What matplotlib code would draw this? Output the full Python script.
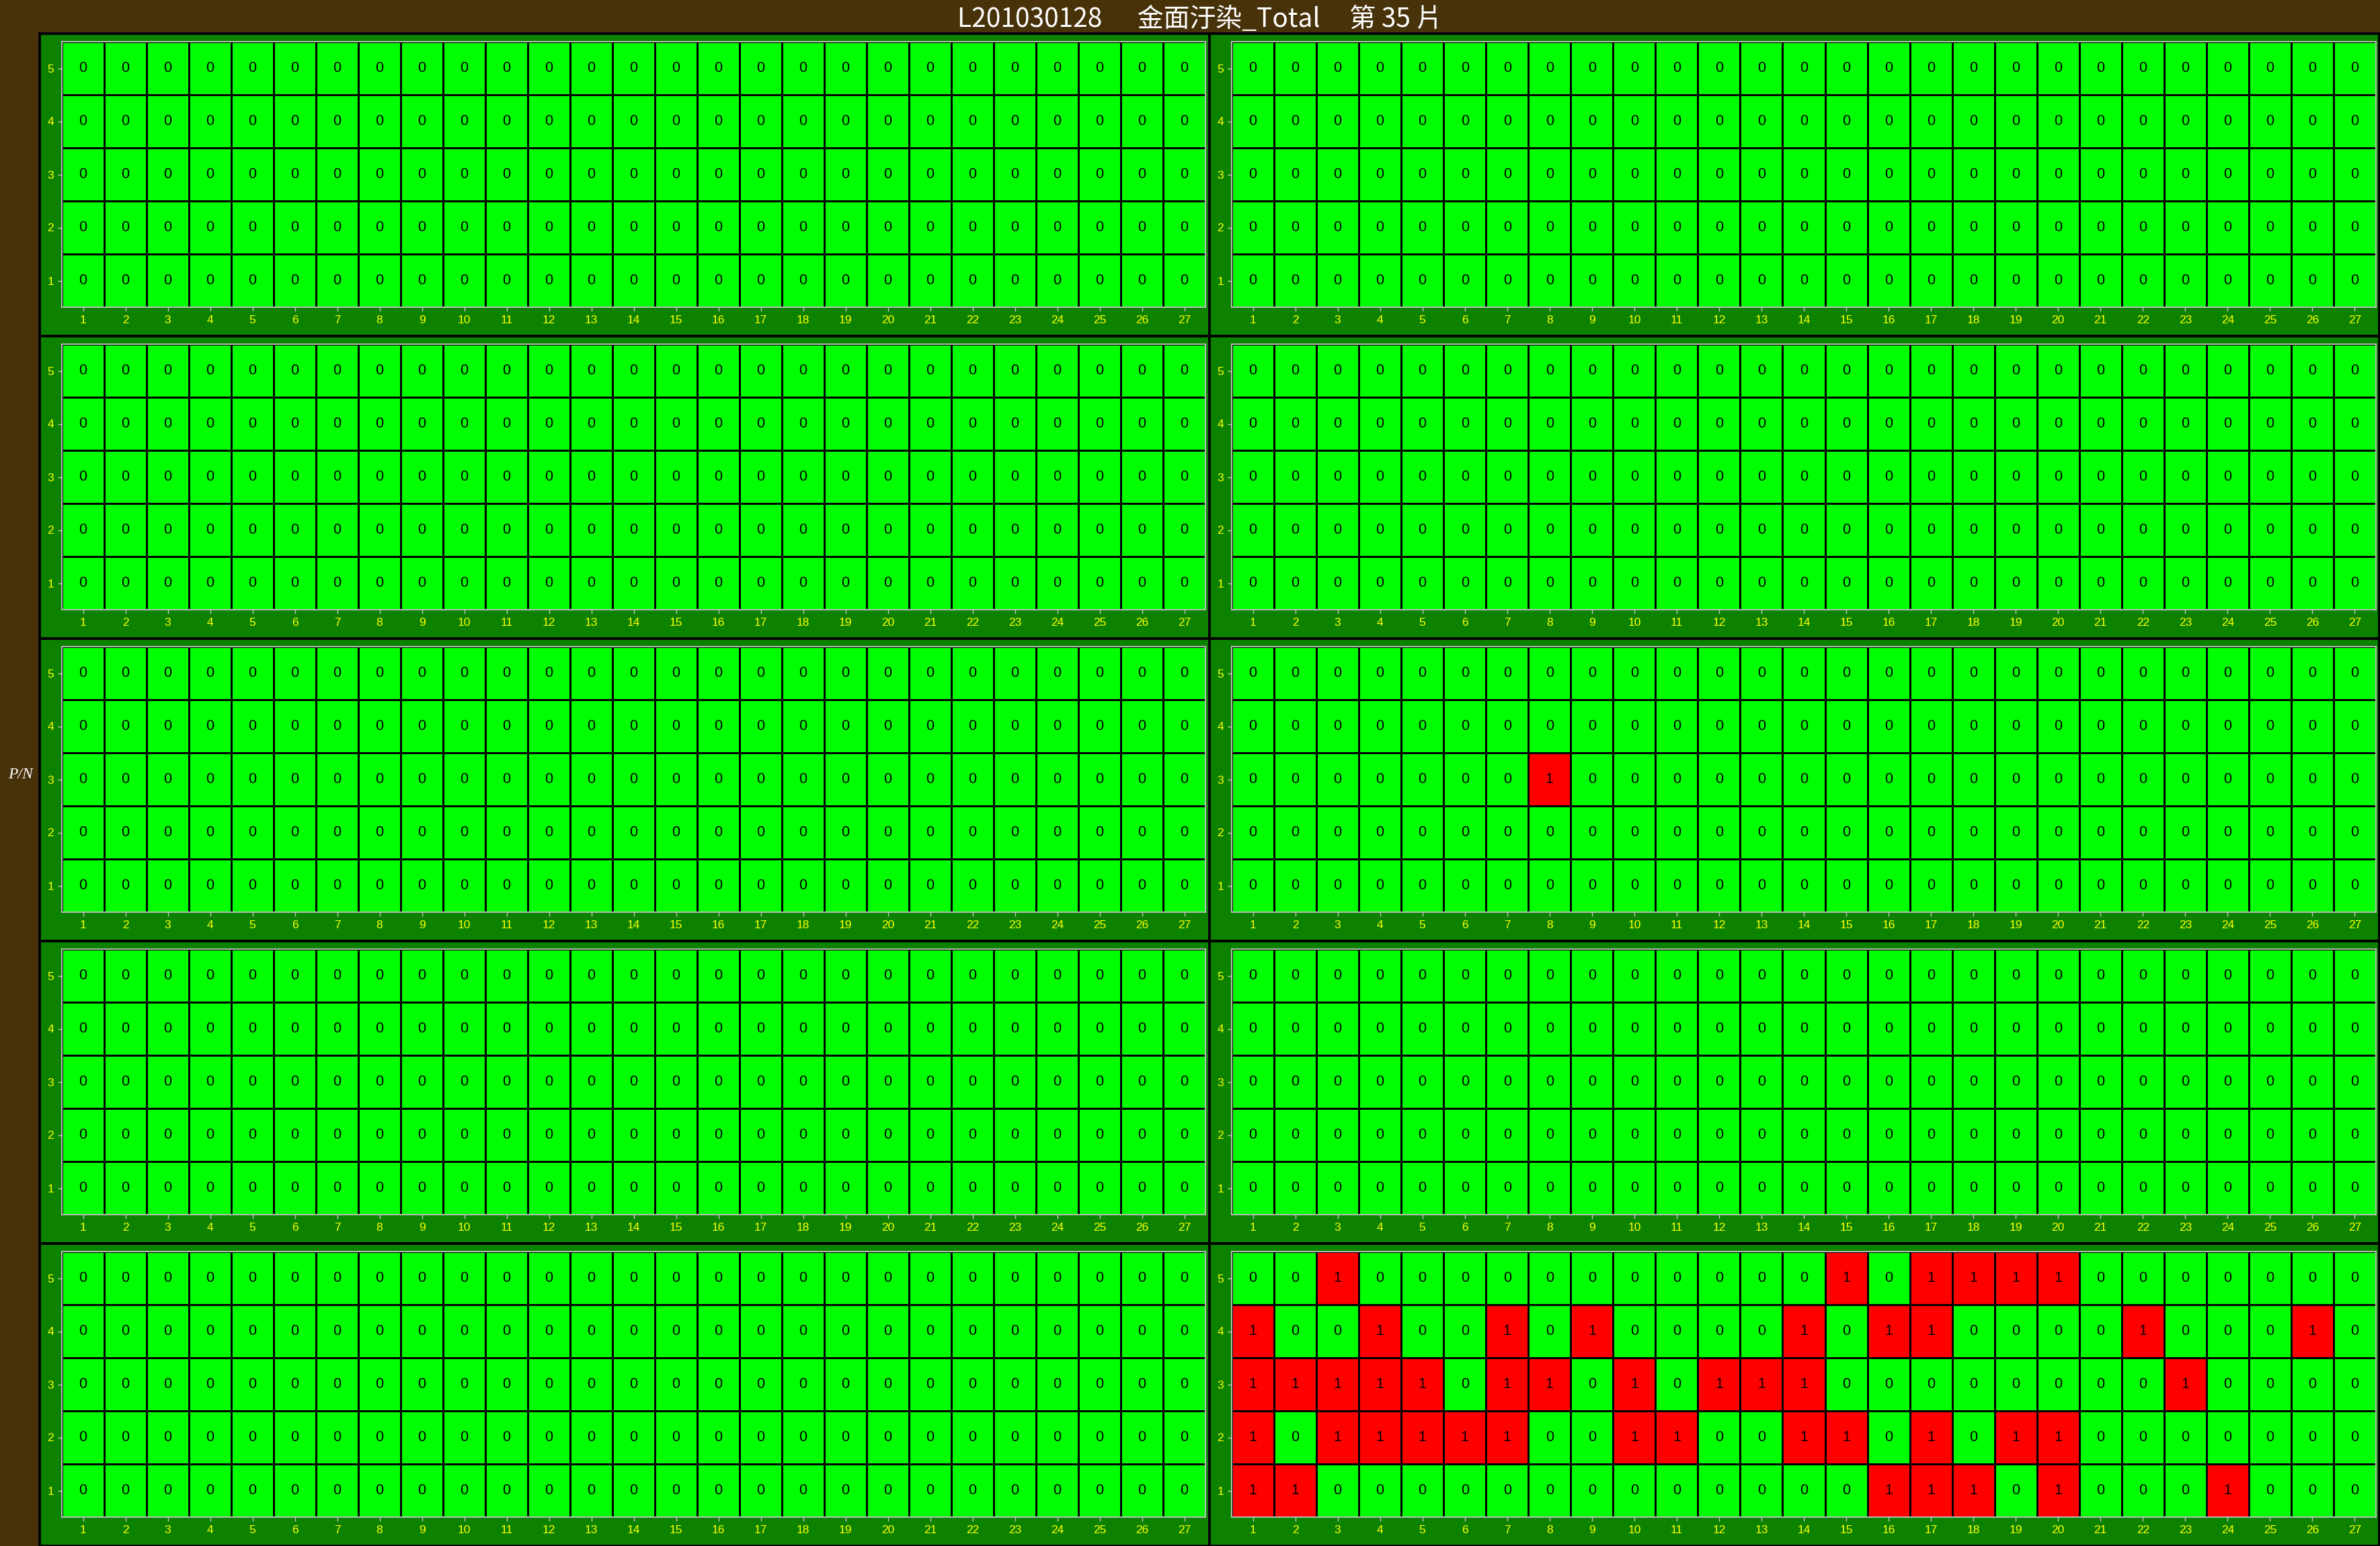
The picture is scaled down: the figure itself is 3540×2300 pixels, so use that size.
import numpy as np
import matplotlib
matplotlib.use('Agg')
import matplotlib.pyplot as plt
from matplotlib.colors import ListedColormap
from matplotlib.patches import Rectangle

# chart text
title = 'L201030128      金面汙染_Total     第 35 片'
ylabel = 'P/N'
row_labels = [5, 4, 3, 2, 1]          # top to bottom
col_labels = list(range(1, 28))

# each panel: 5 rows (row 5 first), 27 columns, 1 = defect
p1_left = ['000000000000000000000000000',
           '000000000000000000000000000',
           '000000000000000000000000000',
           '000000000000000000000000000',
           '000000000000000000000000000']
p1_right = ['000000000000000000000000000',
            '000000000000000000000000000',
            '000000000000000000000000000',
            '000000000000000000000000000',
            '000000000000000000000000000']
p2_left = ['000000000000000000000000000',
           '000000000000000000000000000',
           '000000000000000000000000000',
           '000000000000000000000000000',
           '000000000000000000000000000']
p2_right = ['000000000000000000000000000',
            '000000000000000000000000000',
            '000000000000000000000000000',
            '000000000000000000000000000',
            '000000000000000000000000000']
p3_left = ['000000000000000000000000000',
           '000000000000000000000000000',
           '000000000000000000000000000',
           '000000000000000000000000000',
           '000000000000000000000000000']
p3_right = ['000000000000000000000000000',
            '000000000000000000000000000',
            '000000010000000000000000000',
            '000000000000000000000000000',
            '000000000000000000000000000']
p4_left = ['000000000000000000000000000',
           '000000000000000000000000000',
           '000000000000000000000000000',
           '000000000000000000000000000',
           '000000000000000000000000000']
p4_right = ['000000000000000000000000000',
            '000000000000000000000000000',
            '000000000000000000000000000',
            '000000000000000000000000000',
            '000000000000000000000000000']
p5_left = ['000000000000000000000000000',
           '000000000000000000000000000',
           '000000000000000000000000000',
           '000000000000000000000000000',
           '000000000000000000000000000']
p5_right = ['001000000000001011110000000',
            '100100101000010110000100010',
            '111110110101110000000010000',
            '101111100110011010110000000',
            '110000000000000111010001000']

panels = [[p1_left, p1_right], [p2_left, p2_right], [p3_left, p3_right],
          [p4_left, p4_right], [p5_left, p5_right]]

bg = '#48320a'
panel_bg = '#0c8200'
cmap = ListedColormap(['#00ff00', '#ff0000'])

W, H = 3540, 2300
fig = plt.figure(figsize=(W / 100, H / 100), dpi=100, facecolor=bg)


def fx(px):
    return px / W


def fy(py):
    return 1 - py / H


panel_x = [(59, 1799), (1799, 3539)]
plot_x = [(92, 1793), (1832, 3534)]

for r in range(5):
    for c in range(2):
        x0, x1 = panel_x[c]
        y0, y1 = 50 + 450 * r, 500 + 450 * r
        fig.patches.append(Rectangle((fx(x0), fy(y1)), (x1 - x0) / W, (y1 - y0) / H,
                                     transform=fig.transFigure, facecolor=panel_bg,
                                     edgecolor='black', linewidth=2.8, zorder=-1))
        ax0, ax1 = plot_x[c]
        ay0, ay1 = 62 + 450 * r, 457 + 450 * r
        ax = fig.add_axes([fx(ax0), fy(ay1), (ax1 - ax0) / W, (ay1 - ay0) / H])
        ax.set_zorder(2)

        vals = np.array([[int(ch) for ch in row] for row in panels[r][c]])
        xe = np.arange(len(col_labels) + 1) + 0.5
        ye = np.arange(len(row_labels) + 1) + 0.5
        ax.pcolormesh(xe, ye, vals[::-1], cmap=cmap, vmin=0, vmax=1,
                      edgecolors='black', linewidth=1.0)
        for i, rl in enumerate(row_labels):
            for j, cl in enumerate(col_labels):
                ax.text(cl, rl, str(vals[i, j]), ha='center', va='center',
                        fontsize=15.5, family='Liberation Sans', color='black')

        ax.set_xlim(0.5, 27.5)
        ax.set_ylim(0.5, 5.5)
        ax.set_xticks(col_labels)
        ax.set_yticks(sorted(row_labels))
        ax.tick_params(colors='#c8c8c8', labelcolor='#ffff00', length=4.5,
                       width=1, labelsize=12.5, pad=4)
        for lab in ax.get_xticklabels() + ax.get_yticklabels():
            lab.set_family('Liberation Sans')
        for sp in ax.spines.values():
            sp.set_color('#c8c8c8')
            sp.set_linewidth(1.3)

fig.text(fx(1785), fy(29), title, ha='center', va='center', color='white',
         fontsize=28, family=['Noto Sans CJK TC', 'DejaVu Sans'])
fig.text(fx(30), fy(1152), ylabel, ha='center', va='center', color='white',
         fontsize=17, style='italic', family='Liberation Serif')

fig.savefig('out.png', dpi=100, facecolor=bg)
